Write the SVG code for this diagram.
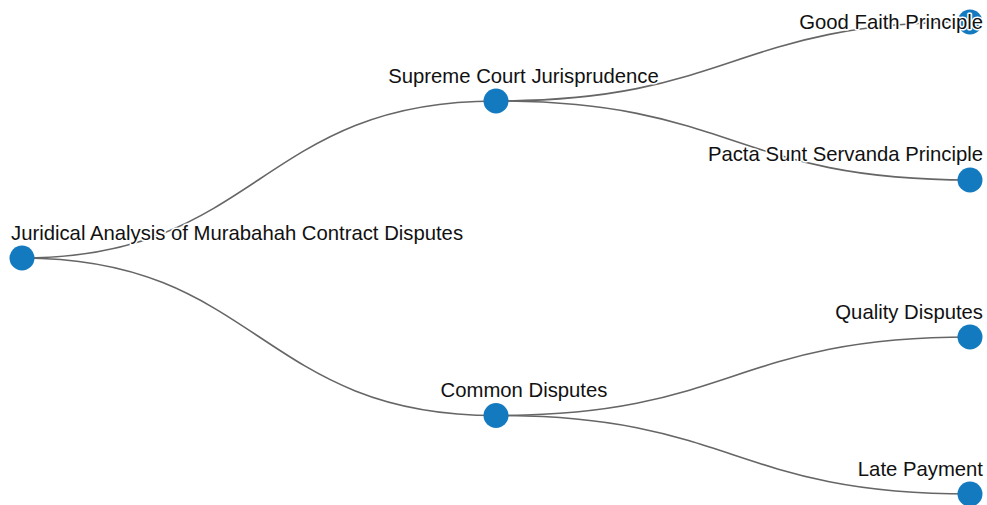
<svg xmlns="http://www.w3.org/2000/svg" width="987" height="505" viewBox="0 0 987 505">
<style>
.link{fill:none;stroke:#666;stroke-width:1.6}
.node circle{fill:#137abf}
.node text{font-family:"Liberation Sans",Arial,sans-serif;font-size:20.3px;fill:#111;stroke:#fff;stroke-width:3;paint-order:stroke;stroke-linejoin:round}
</style>
<rect width="987" height="505" fill="#fff"/>
<g id="links">
<path class="link" d="M22,258 C259,258 259,101 496,101"/>
<path class="link" d="M22,258 C259,258 259,415.5 496,415.5"/>
<path class="link" d="M496,101 C733,101 733,22 970,22"/>
<path class="link" d="M496,101 C733,101 733,180 970,180"/>
<path class="link" d="M496,415.5 C733,415.5 733,337 970,337"/>
<path class="link" d="M496,415.5 C733,415.5 733,494 970,494"/>
</g>
<g id="node-root" class="node"><circle cx="22" cy="258" r="12.5"/><text x="11" y="240">Juridical Analysis of Murabahah Contract Disputes</text></g>
<g id="node-supreme" class="node"><circle cx="496" cy="101" r="12.5"/><text x="523.5" y="83" text-anchor="middle">Supreme Court Jurisprudence</text></g>
<g id="node-common" class="node"><circle cx="496" cy="415.5" r="12.5"/><text x="524" y="397" text-anchor="middle">Common Disputes</text></g>
<g id="node-goodfaith" class="node"><circle cx="970" cy="22" r="12.5"/><text x="983" y="29" text-anchor="end">Good Faith Principle</text></g>
<g id="node-pacta" class="node"><circle cx="970" cy="180" r="12.5"/><text x="983" y="161" text-anchor="end">Pacta Sunt Servanda Principle</text></g>
<g id="node-quality" class="node"><circle cx="970" cy="337" r="12.5"/><text x="983" y="319" text-anchor="end">Quality Disputes</text></g>
<g id="node-late" class="node"><circle cx="970" cy="494" r="12.5"/><text x="983" y="476" text-anchor="end">Late Payment</text></g>
</svg>
